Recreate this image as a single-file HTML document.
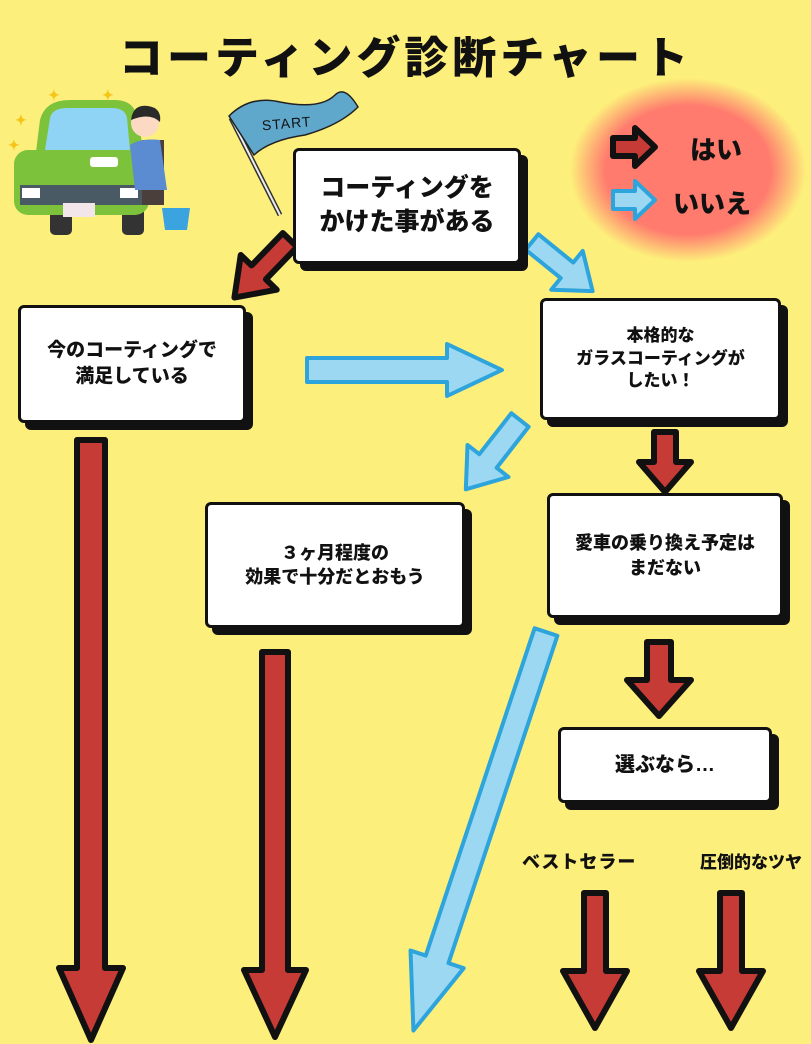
<!DOCTYPE html>
<html><head><meta charset="utf-8"><style>
html,body{margin:0;padding:0}
body{width:811px;height:1044px;background:#fdef7b;position:relative;overflow:hidden;font-family:"Liberation Sans","Noto Sans CJK JP",sans-serif;font-weight:900}
.t{position:absolute;font-weight:900;color:#111;white-space:nowrap}
.box{position:absolute;background:#fff;border:3px solid #111;border-radius:6px;box-shadow:7px 7px 0 #111;display:flex;align-items:center;justify-content:center;text-align:center;font-weight:900;color:#111;line-height:1.35}
</style></head><body>
<svg width="811" height="1044" style="position:absolute;left:0;top:0">
<defs>
<radialGradient id="rg" cx="50%" cy="50%" r="50%">
<stop offset="0.7" stop-color="#ff7b6e"/><stop offset="1" stop-color="#ff7b6e" stop-opacity="0"/>
</radialGradient>
</defs>
<ellipse cx="688" cy="170" rx="118" ry="92" fill="url(#rg)"/>
<g>
<rect x="50" y="205" width="22" height="30" rx="5" fill="#333"/>
<rect x="122" y="205" width="22" height="30" rx="5" fill="#333"/>
<path d="M40 120 Q45 100 70 100 L115 100 Q135 100 138 120 L145 160 L35 160 Z" fill="#7cc23b"/>
<path d="M50 118 Q52 108 68 108 L112 108 Q125 108 127 118 L130 150 L45 150 Z" fill="#8fd3f5"/>
<rect x="14" y="150" width="135" height="65" rx="14" fill="#7cc23b"/>
<rect x="20" y="185" width="125" height="20" fill="#4a5a64"/>
<rect x="22" y="188" width="18" height="10" fill="#fff"/>
<rect x="120" y="188" width="18" height="10" fill="#fff"/>
<rect x="63" y="203" width="32" height="14" fill="#f3e6ea"/>
<rect x="142" y="140" width="22" height="65" fill="#4a3f3a"/>
<path d="M130 145 Q140 138 160 140 L167 190 L135 190 Z" fill="#5b8bd0"/>
<circle cx="145" cy="123" r="14" fill="#fbd9c3"/>
<path d="M131 120 Q133 104 148 106 Q162 108 160 122 Q150 112 131 120Z" fill="#2a2a2a"/>
<rect x="90" y="157" width="28" height="10" rx="3" fill="#fff"/>
<path d="M162 208 L190 208 L187 230 L165 230 Z" fill="#3aa3e0"/>
<text x="15" y="125" fill="#f5c518" font-size="14">✦</text>
<text x="48" y="100" fill="#f5c518" font-size="14">✦</text>
<text x="102" y="100" fill="#f5c518" font-size="14">✦</text>
<text x="8" y="150" fill="#f5c518" font-size="14">✦</text>
</g>
<line x1="231" y1="118" x2="280" y2="215" stroke="#333" stroke-width="5"/>
<line x1="231" y1="118" x2="280" y2="215" stroke="#eee" stroke-width="2"/>
<path d="M229 116 Q250 95 280 102 Q320 110 335 95 Q345 85 358 107 Q340 125 305 135 Q270 140 254 155 Z" fill="#5fa8cc" stroke="#222" stroke-width="1.5"/>
<text x="262" y="128" font-size="14" font-family="Liberation Sans,sans-serif" font-weight="400" fill="#111" transform="rotate(-5 290 125)" letter-spacing="1">START</text>
<g stroke-linejoin="round">
<g fill="#c73b36" stroke="#111" stroke-width="6">
<polygon transform="translate(91,440) rotate(90)" points="0,-14 528,-14 528,-32 600,0 528,32 528,14 0,14"/>
<polygon transform="translate(275,652) rotate(90)" points="0,-13 318,-13 318,-31 385,0 318,31 318,13 0,13"/>
<polygon transform="translate(665,432) rotate(90)" points="0,-11 30,-11 30,-26 60,0 30,26 30,11 0,11"/>
<polygon transform="translate(659,642) rotate(90)" points="0,-12 38,-12 38,-32 74,0 38,32 38,12 0,12"/>
<polygon transform="translate(595,893) rotate(90)" points="0,-11 78,-11 78,-32 135,0 78,32 78,11 0,11"/>
<polygon transform="translate(731,893) rotate(90)" points="0,-11 78,-11 78,-32 135,0 78,32 78,11 0,11"/>
<polygon transform="translate(290,240) rotate(134)" points="0,-10 45,-10 45,-25 80,0 45,25 45,10 0,10"/>
<polygon transform="translate(613,147)" points="0,-9 22,-9 22,-19 42,0 22,19 22,9 0,9"/>
</g>
<g fill="#9cd8f2" stroke="#2ea4dc" stroke-width="4">
<polygon transform="translate(307,370)" points="0,-12 140,-12 140,-26 195,0 140,26 140,12 0,12"/>
<polygon transform="translate(532,242) rotate(39)" points="0,-10 45,-10 45,-25 78,0 45,25 45,10 0,10"/>
<polygon transform="translate(520,420) rotate(128)" points="0,-11 52,-11 52,-26 88,0 52,26 52,11 0,11"/>
<polygon transform="translate(546,632) rotate(108.4)" points="0,-12 345,-12 345,-28 420,0 345,28 345,12 0,12"/>
<polygon transform="translate(613,200)" points="0,-9 22,-9 22,-19 42,0 22,19 22,9 0,9"/>
</g>
</g>
</svg>
<div class="t" style="left:0;width:811px;top:22px;text-align:center;font-size:44px;letter-spacing:4px">コーティング診断チャート</div>
<div class="t" style="left:690px;top:130px;font-size:26px">はい</div>
<div class="t" style="left:673px;top:184px;font-size:26px">いいえ</div>
<div class="box" style="left:293px;top:148px;width:222px;height:110px;font-size:25px">コーティングを<br>かけた事がある</div>
<div class="box" style="left:18px;top:305px;width:222px;height:112px;font-size:19px">今のコーティングで<br>満足している</div>
<div class="box" style="left:540px;top:298px;width:235px;height:116px;font-size:17px">本格的な<br>ガラスコーティングが<br>したい！</div>
<div class="box" style="left:205px;top:502px;width:254px;height:120px;font-size:18px">３ヶ月程度の<br>効果で十分だとおもう</div>
<div class="box" style="left:547px;top:493px;width:230px;height:119px;font-size:18px">愛車の乗り換え予定は<br>まだない</div>
<div class="box" style="left:558px;top:727px;width:208px;height:70px;font-size:20px">選ぶなら…</div>
<div class="t" style="left:522px;top:848px;font-size:18px;letter-spacing:1px">ベストセラー</div>
<div class="t" style="left:700px;top:848px;font-size:17px">圧倒的なツヤ</div>
</body></html>
